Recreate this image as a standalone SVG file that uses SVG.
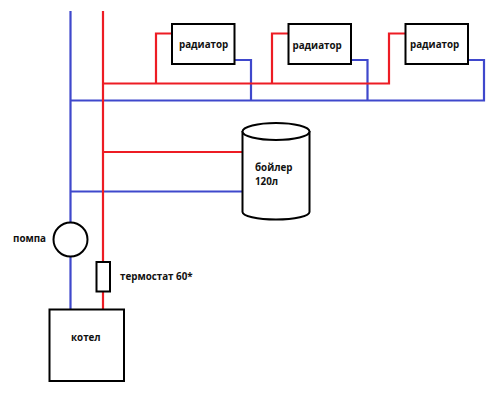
<svg xmlns="http://www.w3.org/2000/svg" width="500" height="419" viewBox="0 0 500 419">
<style>
.red{fill:none;stroke:#ed1c24;stroke-width:2.200}
.blue{fill:none;stroke:#3f48cc;stroke-width:2.200}
.box{fill:#fff;stroke:#000;stroke-width:2}
text{font-family:"Open Sans","DejaVu Sans",sans-serif;font-size:9.800px;font-weight:700;fill:#111}
</style>
<rect width="500" height="419" fill="#fff"/>
<g id="connectors">
<path class="blue" d="M70.500 11V222M70.500 257V309M70 100.500H484V60H468M234 60H251V100.500M351 60H367.500V100.500M70.500 191.500H243"/>
<path class="red" d="M103 11V262M103 291V309M103 83.500H389V33.500H405M156 83.500V33.500H172M272 83.500V33.500H288M103 152H243"/>
</g>
<g id="radiator1"><rect class="box" x="172" y="24" width="62.500" height="40"/><text x="179" y="48">радиатор</text></g>
<g id="radiator2"><rect class="box" x="288.500" y="24" width="62.500" height="40"/><text x="292.500" y="48.500">радиатор</text></g>
<g id="radiator3"><rect class="box" x="405.500" y="24" width="62.500" height="40"/><text x="410" y="48">радиатор</text></g>
<g id="boiler"><path class="box" d="M242.500 131V212C242.500 216 257 219.500 276 219.500S309.500 216 309.500 212V131"/><ellipse class="box" cx="276" cy="131.500" rx="33.500" ry="8.500"/><text x="255" y="171">бойлер</text><text x="255" y="185">120л</text></g>
<g id="pump"><circle class="box" cx="70.500" cy="239.500" r="17"/><text x="13" y="242">помпа</text></g>
<g id="thermostat"><rect class="box" x="96.500" y="262" width="13.500" height="29.500"/><text x="120" y="280">термостат 60*</text></g>
<g id="kotel"><rect class="box" x="49.500" y="309.500" width="74.500" height="71.500"/><text x="71" y="341">котел</text></g>
</svg>
